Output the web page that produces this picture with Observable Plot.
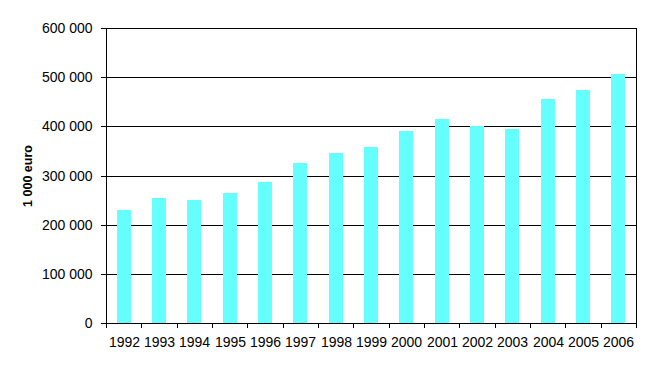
<!DOCTYPE html>
<html>
<head>
<meta charset="utf-8">
<script src="https://cdn.jsdelivr.net/npm/d3@7"></script>
<script src="https://cdn.jsdelivr.net/npm/@observablehq/plot@0.6"></script>
<style>
  html, body { margin: 0; padding: 0; background: #fff; }
  svg { display: block; }
  .xlab text { font-family: "Liberation Sans Narrow", "Arial Narrow", "Liberation Sans", Arial, sans-serif; }
</style>
</head>
<body>
<div id="chart"></div>
<script>
const years = [1992, 1993, 1994, 1995, 1996, 1997, 1998, 1999, 2000, 2001, 2002, 2003, 2004, 2005, 2006];
const values = [229000, 255000, 251000, 265000, 287000, 326000, 346000, 358000, 391000, 415000, 401000, 395000, 456000, 474000, 507000];
const yTicks = [0, 100000, 200000, 300000, 400000, 500000, 600000];
const yLabel = "1 000 euro";

const data = years.map((year, i) => ({year, value: values[i]}));
const boundaries = [years[0] - 0.5, ...years.map(y => y + 0.5)];
const fmt = d3.formatLocale({thousands: " ", grouping: [3], decimal: ","}).format(",");

const chart = Plot.plot({
  width: 652,
  height: 370,
  marginLeft: 106,
  marginRight: 16,
  marginTop: 28,
  marginBottom: 47,
  style: {fontFamily: "'Liberation Sans', Arial, sans-serif", color: "#000", background: "#fff"},
  x: {domain: [years[0] - 0.5, years[years.length - 1] + 0.5], round: true},
  y: {domain: [0, 600000], round: true},
  marks: [
    Plot.ruleY(yTicks, {stroke: "#000", strokeWidth: 1}),
    Plot.rectY(data, {x1: d => d.year - 0.2, x2: d => d.year + 0.2, y: "value", fill: "#66ffff"}),
    Plot.ruleX([years[0] - 0.5, years[years.length - 1] + 0.5], {stroke: "#000"}),
    Plot.axisY({ticks: yTicks, tickFormat: fmt, tickSize: 5, tickPadding: 9, fontSize: 14, label: null, stroke: "#000"}),
    Plot.axisX({ticks: boundaries, tickSize: 5, tickFormat: () => "", label: null, stroke: "#000"}),
    Plot.axisX({ticks: years, tickSize: 0, tickPadding: 14, tickFormat: d => String(d), fontSize: 14, label: null, className: "xlab"}),
    Plot.text([yLabel], {frameAnchor: "left", textAnchor: "middle", dx: -79, rotate: -90, fontWeight: "bold", fontSize: 12.5, fill: "#000"})
  ]
});
document.getElementById("chart").appendChild(chart);
</script>
</body>
</html>
